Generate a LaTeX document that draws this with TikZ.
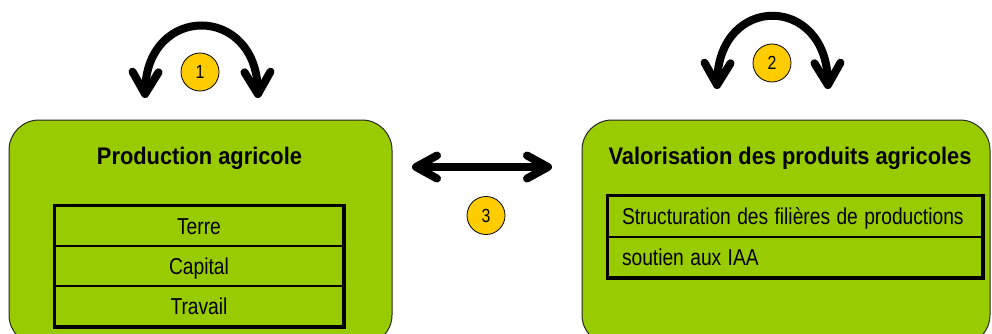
\documentclass[tikz,border=0pt]{standalone}
\usepackage{fontspec}
\usepackage{graphicx}
\setmainfont{Liberation Sans}
\usetikzlibrary{arrows.meta}
\definecolor{boxgreen}{HTML}{99CC00}
\definecolor{numyellow}{HTML}{FFCC00}
\newcommand{\narrowtxt}[1]{\scalebox{0.835}[1]{#1}}
\newcommand{\titletxt}[1]{\scalebox{0.91}[1]{#1}}
\tikzset{
  bigbox/.style={draw=black!85, line width=1pt, fill=boxgreen, rounded corners=30pt, minimum height=225pt, inner sep=0pt},
  titletext/.style={font=\bfseries\fontsize{24}{28}\selectfont, text height=17.3pt, text depth=0pt, inner sep=0pt},
  cellc/.style={draw=black, line width=1.5pt, minimum width=288pt, minimum height=40pt, inner sep=0pt,
    font=\fontsize{23}{27}\selectfont, text height=16.5pt, text depth=0pt},
  celll/.style={draw=black, line width=1.5pt, minimum width=374pt, minimum height=40.5pt, inner xsep=14pt, inner ysep=0pt,
    text width=346pt, align=left,
    font=\fontsize{23}{27}\selectfont, text height=16.5pt, text depth=0pt},
  frame/.style={line width=3.5pt},
  numcircle/.style={circle, draw=black, line width=0.8pt, fill=numyellow, minimum size=38pt, inner sep=0pt,
    font=\fontsize{19}{21}\selectfont},
  bigarrow/.style={line width=8pt, line cap=round, {Straight Barb[length=22pt,width=26pt,line cap=round,line join=round]}-{Straight Barb[length=22pt,width=26pt,line cap=round,line join=round]}},
  midarrow/.style={line width=8pt, line cap=round, {Straight Barb[length=21pt,width=23pt,line cap=round,line join=round]}-{Straight Barb[length=21pt,width=23pt,line cap=round,line join=round]}}
}
\begin{document}
\begin{tikzpicture}[x=1pt,y=-1pt]
\useasboundingbox (0,0) rectangle (992,334);
\clip (0,0) rectangle (992,334);

% big boxes
\node[bigbox, minimum width=383pt] (prod) at (200.5,232.5) {};
\node[bigbox, minimum width=408pt] (valo) at (786,232.5) {};

% titles
\node[titletext] (prodtitle) at (199.5,155.5) {\titletxt{Production agricole}};
\node[titletext] (valotitle) at (790,155.5) {\titletxt{Valorisation des produits agricoles}};

% left table
\node[cellc] (terre) at (199,226) {\narrowtxt{Terre}};
\node[cellc] (capital) at (199,266) {\narrowtxt{Capital}};
\node[cellc] (travail) at (199,306) {\narrowtxt{Travail}};
\draw[frame] (terre.north west) rectangle (travail.south east);

% right table
\node[celll] (struct) at (795,216.5) {\narrowtxt{Structuration des filières de productions}};
\node[celll] (soutien) at (795,257) {\narrowtxt{soutien aux IAA}};
\draw[frame] (struct.north west) rectangle (soutien.south east);

% curved arrows
\coordinate (a1l) at (145,98);
\coordinate (a1r) at (258,98);
\draw[bigarrow] (a1l) .. controls (147,4) and (256,4) .. (a1r);
\node[numcircle] (n1) at (200,72) {\narrowtxt{1}};

\coordinate (a2l) at (717,89);
\coordinate (a2r) at (828,89);
\draw[bigarrow] (a2l) .. controls (719,-6) and (826,-6) .. (a2r);
\node[numcircle] (n2) at (772,63) {\narrowtxt{2}};

% straight double arrow
\coordinate (a3l) at (412,167);
\coordinate (a3r) at (552,167);
\draw[midarrow] (a3l) -- (a3r);
\node[numcircle] (n3) at (486,215.5) {\narrowtxt{3}};
\end{tikzpicture}
\end{document}
